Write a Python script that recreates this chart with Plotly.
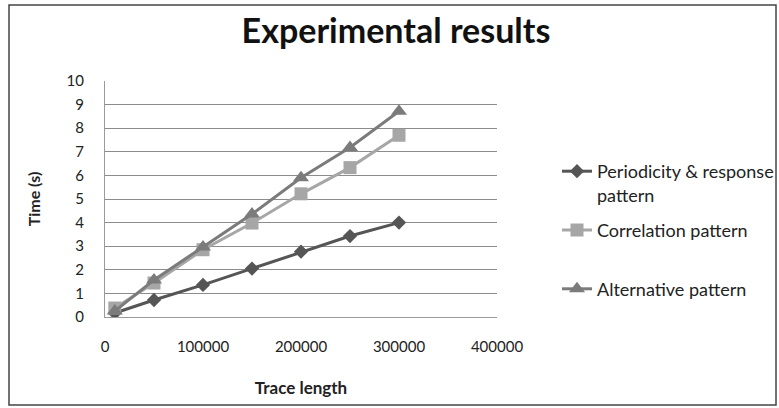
import plotly.graph_objects as go

trace_length = [10000, 50000, 100000, 150000, 200000, 250000, 300000]
periodicity = [0.17, 0.72, 1.36, 2.05, 2.77, 3.43, 4.0]
correlation = [0.38, 1.44, 2.85, 3.98, 5.22, 6.33, 7.7]
alternative = [0.25, 1.57, 2.97, 4.36, 5.9, 7.18, 8.72]

names = ["Periodicity &amp; response<br>pattern", "Correlation pattern<br>&nbsp;", "Alternative pattern"]
series = [periodicity, correlation, alternative]
colors = ["#555555", "#a6a6a6", "#7b7b7b"]
symbols = ["diamond", "square", "triangle-up"]
sizes = [11, 13, 14]

W, H = 779, 408
ml, mr, mt, mb = 105, 282, 81, 91
font_family = "Lato, 'Open Sans', sans-serif"

fig = go.Figure()
for i, (nm, ys) in enumerate(zip(names, series)):
    fig.add_trace(go.Scatter(
        x=trace_length, y=ys, name=nm, mode="lines+markers",
        line=dict(color=colors[i], width=3),
        marker=dict(symbol=symbols[i], size=sizes[i], color=colors[i]),
        legendgroup=str(i),
    ))

pw = W - ml - mr
ph = H - mt - mb

fig.update_layout(
    width=W, height=H,
    margin=dict(l=ml, r=mr, t=mt, b=mb, autoexpand=False),
    paper_bgcolor="white", plot_bgcolor="white",
    font=dict(family=font_family, size=15, color="#222222"),
    title=dict(text="<b>Experimental results</b>", x=396 / W, xanchor="center",
               y=1 - 31 / H, yanchor="middle",
               font=dict(size=34, color="#111111", family=font_family)),
    xaxis=dict(range=[0, 400000], tickvals=[0, 100000, 200000, 300000, 400000],
               ticktext=["0", "100000", "200000", "300000", "400000"],
               showgrid=False, zeroline=False, showline=True, linecolor="#9a9a9a",
               linewidth=1, ticks="", tickfont=dict(size=15), ticklabelstandoff=16,
               automargin=False,
               title=dict(text="<b>Trace length</b>", font=dict(size=17), standoff=28)),
    yaxis=dict(range=[0, 10], dtick=1, showgrid=True, gridcolor="#8c8c8c", gridwidth=1,
               zeroline=False, showline=True, linecolor="#9a9a9a", linewidth=1,
               ticks="", tickfont=dict(size=15), ticklabelstandoff=17,
               automargin=False,
               title=dict(text="<b>Time (s)</b>", font=dict(size=16), standoff=21)),
    legend=dict(x=(557 - ml) / pw, y=1 - (153 - mt) / ph, xanchor="left", yanchor="top",
                font=dict(size=18), bgcolor="rgba(0,0,0,0)", tracegroupgap=9,
                itemwidth=30, valign="top"),
    showlegend=True,
    shapes=[dict(type="rect", xref="paper", yref="paper",
                 x0=(9 - ml) / pw, x1=(W - 3 - ml) / pw,
                 y0=1 - (405 - mt) / ph, y1=1 - (5 - mt) / ph,
                 line=dict(color="#444444", width=1.5), fillcolor="rgba(0,0,0,0)",
                 layer="below")],
)

fig.write_html("out.html", config={"displayModeBar": False},
               post_script="document.body.style.margin='0';document.body.style.padding='0';")
